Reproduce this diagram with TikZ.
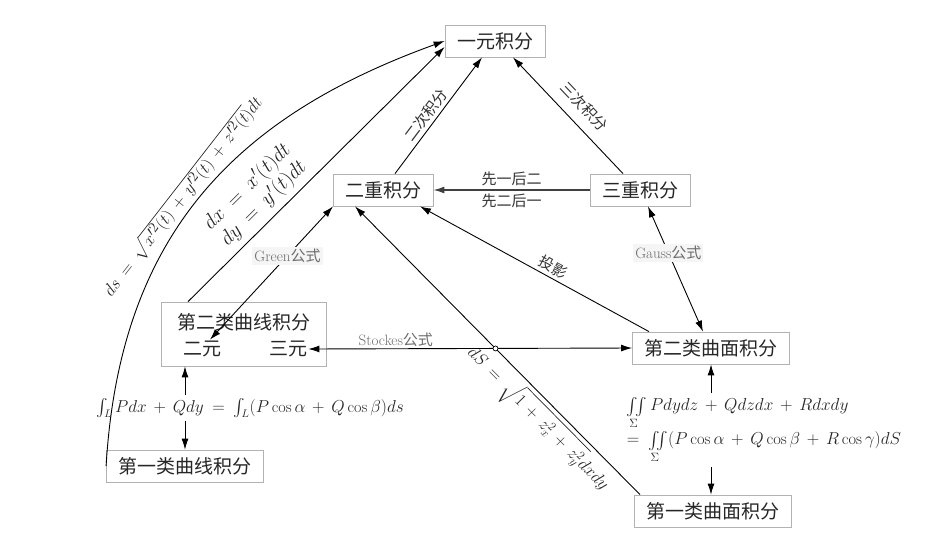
\documentclass[tikz,border=0pt]{standalone}
\usepackage{amsmath}
\usepackage{fontspec}
\newfontfamily\cjk{Noto Sans CJK SC}
\usetikzlibrary{arrows.meta}

\begin{document}
\begin{tikzpicture}[x=1pt, y=-1pt,
    box/.style={draw=gray!60, line width=0.8pt, rectangle, font=\cjk\fontsize{19}{21}\selectfont, minimum height=32pt, inner xsep=12pt, text=black!85},
    lbl/.style={font=\cjk\fontsize{15}{17}\selectfont, text=black!80},
    gong/.style={fill=gray!8, text=gray!85!black, font=\fontsize{15}{17}\selectfont, inner sep=2pt},
    formel/.style={text=black!85, execute at begin node={\medmuskip=7mu\thickmuskip=9mu}},
    arr/.style={-{Latex[length=11pt,width=7pt]}, line width=0.9pt},
    biarr/.style={{Latex[length=11pt,width=7pt]}-{Latex[length=11pt,width=7pt]}, line width=0.9pt}]
    \useasboundingbox (0,0) rectangle (932,558);

    \node[box] (yiyuan) at (495,41) {一元积分};
    \node[box] (erchong) at (383,190) {二重积分};
    \node[box] (sanchong) at (640,190) {三重积分};
    \node[box, minimum width=165pt, minimum height=64pt] (quxian2) at (244,334) {};
    \node[box, draw=none] (quxianT) at (244,322) {第二类曲线积分};
    \node[box, draw=none, minimum height=0pt, inner sep=1pt] (eryuan) at (202,349) {二元};
    \node[box, draw=none, minimum height=0pt, inner sep=1pt] (sanyuan) at (288,349) {三元};
    \node[box] (quxian1) at (185,466) {第一类曲线积分};
    \node[box] (mian2) at (711,348) {第二类曲面积分};
    \node[box] (mian1) at (713,511) {第一类曲面积分};

    \node[formel, font=\fontsize{16.2}{18}\selectfont] (gs1) at (250,408) {$\int_L Pdx + Qdy = \int_L (P\cos\alpha + Q\cos\beta)ds$};
    \node[formel, font=\fontsize{16.5}{19}\selectfont, align=left] (gs2) at (764,430) {$\iint\limits_{\Sigma} Pdydz + Qdzdx + Rdxdy$\\[1pt]
        $= \iint\limits_{\Sigma}(P\cos\alpha + Q\cos\beta + R\cos\gamma)dS$};

    \draw[arr] ([xshift=12pt]erchong.north) -- node[lbl, sloped, above, pos=0.45] {二次积分} ([xshift=-13pt]yiyuan.south);
    \draw[arr] ([xshift=-17pt]sanchong.north) -- node[lbl, sloped, above=7pt, pos=0.47] {三次积分} ([xshift=18pt]yiyuan.south);
    \draw[arr, line width=1.3pt, black!75] (sanchong) -- node[lbl, above] {先一后二} node[lbl, below] {先二后一} (erchong);

    % curve and line to yiyuan
    \draw[arr] (quxian1.west) .. controls (120,230) and (240,115) .. (yiyuan.west)
        node[formel, sloped, above=0pt, pos=0.47, font=\fontsize{19}{21}\selectfont] {$ds = \sqrt{x'^2(t) + y'^2(t) + z'^2(t)}dt$};
    \draw[arr] ([xshift=-56pt]quxian2.north) -- node[formel, sloped, above=2pt, pos=0.34, align=center, font=\fontsize{20}{23}\selectfont]
        {$dx = x'(t)dt$\\$dy = y'(t)dt$} ([yshift=-6pt]yiyuan.west);

    \draw[biarr] ([xshift=-50pt]erchong.south) -- node[gong, pos=0.37] {Green{\cjk 公式}} ([xshift=8pt]eryuan.north);

    \coordinate (dsA) at ([xshift=-73pt]mian1.north);
    \coordinate (dsB) at ([xshift=-28pt]erchong.south);
    \draw[arr] (dsA) -- node[formel, sloped, below, pos=0.31, font=\fontsize{17}{19}\selectfont] {$dS = \sqrt{1+z_x^2+z_y^2}dxdy$} (dsB);

    \draw[arr] ([xshift=-62pt]mian2.north) -- node[lbl, sloped, above, pos=0.44] {投影} ([xshift=37pt]erchong.south);
    \draw[biarr] ([xshift=8pt]sanchong.south) -- node[gong, pos=0.37] {Gauss{\cjk 公式}} ([xshift=-8pt]mian2.north);
    \draw[biarr] (sanyuan.east) -- node[gong, fill=none, above, pos=0.27] {Stockes{\cjk 公式}} (mian2.west);
    \draw[line width=0.7pt, fill=white] (intersection of dsA--dsB and sanyuan.east--mian2.west) circle (2.5pt);

    \draw[arr] (gs1.north -| quxian1) -- (quxian2.south -| quxian1);
    \draw[arr] (gs1.south -| quxian1) -- (quxian1.north);
    \draw[arr] (gs2.north -| mian2) -- (mian2.south);
    \draw[arr] (gs2.south -| mian2) -- (mian1.north -| mian2);
\end{tikzpicture}
\end{document}
